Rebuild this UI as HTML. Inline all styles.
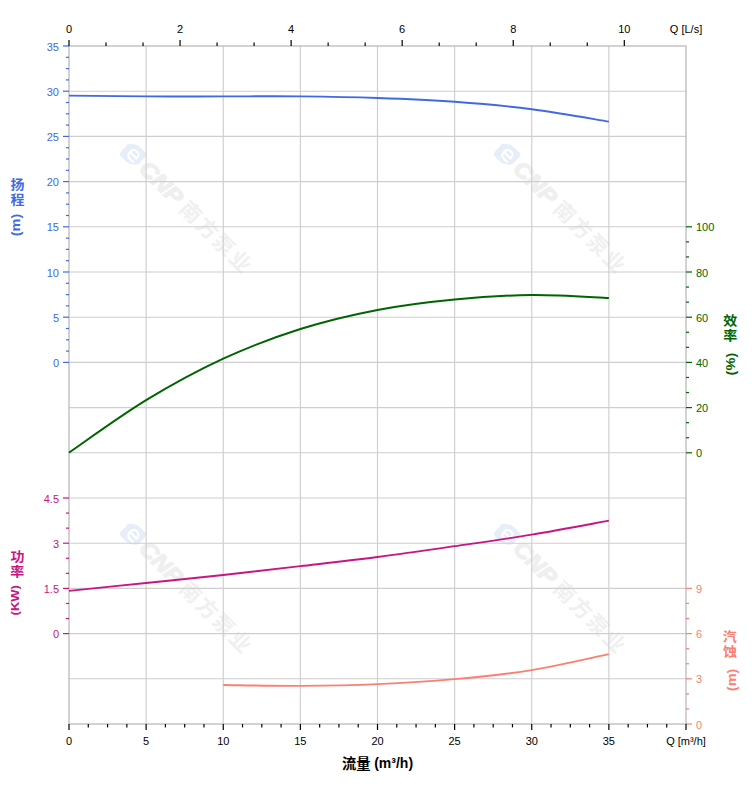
<!DOCTYPE html>
<html><head><meta charset="utf-8"><title>Pump curve</title>
<style>html,body{margin:0;padding:0;background:#fff;}body{width:752px;height:797px;overflow:hidden;font-family:"Liberation Sans",sans-serif;}svg{display:block}</style>
</head><body>
<svg width="752" height="797" viewBox="0 0 752 797">
<rect width="752" height="797" fill="#fff"/>
<g transform="translate(127 147) rotate(45)"><g transform="translate(9.5 1) scale(0.88) translate(-9 -1)"><path d="M-3 0 Q-4.5 -2.5 -2 -5 L3 -9 Q5 -10.5 8 -10.5 L17 -10.5 Q21 -10.5 21 -6.5 L21 3 Q21 6 18.5 8 L14 11 Q12 12.3 9 12.3 L1 12.3 Q-3 12.3 -3 8 Z" fill="#e6eef8"/><path d="M5.5 1.5 L15 1.5 Q15.5 -4.5 10 -4.5 Q4.5 -4.5 4.5 1.5 Q4.5 7 10 7 L16 7" fill="none" stroke="#fff" stroke-width="2.4"/></g><text x="24" y="8.5" font-family="Liberation Sans, sans-serif" font-weight="bold" font-style="italic" font-size="22" fill="#efefef" stroke="#efefef" stroke-width="1.3" stroke-linejoin="round" textLength="51" lengthAdjust="spacingAndGlyphs">CNP</text><text x="80.5 103.9 127.3 150.7" y="8.5" font-family="Liberation Sans, Noto Sans CJK SC, sans-serif" font-weight="bold" font-size="21" fill="#f0f0f0">南方泵业</text></g>
<g transform="translate(501 147) rotate(45)"><g transform="translate(9.5 1) scale(0.88) translate(-9 -1)"><path d="M-3 0 Q-4.5 -2.5 -2 -5 L3 -9 Q5 -10.5 8 -10.5 L17 -10.5 Q21 -10.5 21 -6.5 L21 3 Q21 6 18.5 8 L14 11 Q12 12.3 9 12.3 L1 12.3 Q-3 12.3 -3 8 Z" fill="#e6eef8"/><path d="M5.5 1.5 L15 1.5 Q15.5 -4.5 10 -4.5 Q4.5 -4.5 4.5 1.5 Q4.5 7 10 7 L16 7" fill="none" stroke="#fff" stroke-width="2.4"/></g><text x="24" y="8.5" font-family="Liberation Sans, sans-serif" font-weight="bold" font-style="italic" font-size="22" fill="#efefef" stroke="#efefef" stroke-width="1.3" stroke-linejoin="round" textLength="51" lengthAdjust="spacingAndGlyphs">CNP</text><text x="80.5 103.9 127.3 150.7" y="8.5" font-family="Liberation Sans, Noto Sans CJK SC, sans-serif" font-weight="bold" font-size="21" fill="#f0f0f0">南方泵业</text></g>
<g transform="translate(127 527) rotate(45)"><g transform="translate(9.5 1) scale(0.88) translate(-9 -1)"><path d="M-3 0 Q-4.5 -2.5 -2 -5 L3 -9 Q5 -10.5 8 -10.5 L17 -10.5 Q21 -10.5 21 -6.5 L21 3 Q21 6 18.5 8 L14 11 Q12 12.3 9 12.3 L1 12.3 Q-3 12.3 -3 8 Z" fill="#e6eef8"/><path d="M5.5 1.5 L15 1.5 Q15.5 -4.5 10 -4.5 Q4.5 -4.5 4.5 1.5 Q4.5 7 10 7 L16 7" fill="none" stroke="#fff" stroke-width="2.4"/></g><text x="24" y="8.5" font-family="Liberation Sans, sans-serif" font-weight="bold" font-style="italic" font-size="22" fill="#efefef" stroke="#efefef" stroke-width="1.3" stroke-linejoin="round" textLength="51" lengthAdjust="spacingAndGlyphs">CNP</text><text x="80.5 103.9 127.3 150.7" y="8.5" font-family="Liberation Sans, Noto Sans CJK SC, sans-serif" font-weight="bold" font-size="21" fill="#f0f0f0">南方泵业</text></g>
<g transform="translate(501 527) rotate(45)"><g transform="translate(9.5 1) scale(0.88) translate(-9 -1)"><path d="M-3 0 Q-4.5 -2.5 -2 -5 L3 -9 Q5 -10.5 8 -10.5 L17 -10.5 Q21 -10.5 21 -6.5 L21 3 Q21 6 18.5 8 L14 11 Q12 12.3 9 12.3 L1 12.3 Q-3 12.3 -3 8 Z" fill="#e6eef8"/><path d="M5.5 1.5 L15 1.5 Q15.5 -4.5 10 -4.5 Q4.5 -4.5 4.5 1.5 Q4.5 7 10 7 L16 7" fill="none" stroke="#fff" stroke-width="2.4"/></g><text x="24" y="8.5" font-family="Liberation Sans, sans-serif" font-weight="bold" font-style="italic" font-size="22" fill="#efefef" stroke="#efefef" stroke-width="1.3" stroke-linejoin="round" textLength="51" lengthAdjust="spacingAndGlyphs">CNP</text><text x="80.5 103.9 127.3 150.7" y="8.5" font-family="Liberation Sans, Noto Sans CJK SC, sans-serif" font-weight="bold" font-size="21" fill="#f0f0f0">南方泵业</text></g>
<line x1="69.0" x2="686.0" y1="91.20" y2="91.20" stroke="#cecece" stroke-width="1.1"/>
<line x1="69.0" x2="686.0" y1="136.40" y2="136.40" stroke="#cecece" stroke-width="1.1"/>
<line x1="69.0" x2="686.0" y1="181.60" y2="181.60" stroke="#cecece" stroke-width="1.1"/>
<line x1="69.0" x2="686.0" y1="226.80" y2="226.80" stroke="#cecece" stroke-width="1.1"/>
<line x1="69.0" x2="686.0" y1="272.00" y2="272.00" stroke="#cecece" stroke-width="1.1"/>
<line x1="69.0" x2="686.0" y1="317.20" y2="317.20" stroke="#cecece" stroke-width="1.1"/>
<line x1="69.0" x2="686.0" y1="362.40" y2="362.40" stroke="#cecece" stroke-width="1.1"/>
<line x1="69.0" x2="686.0" y1="407.60" y2="407.60" stroke="#cecece" stroke-width="1.1"/>
<line x1="69.0" x2="686.0" y1="452.80" y2="452.80" stroke="#cecece" stroke-width="1.1"/>
<line x1="69.0" x2="686.0" y1="498.00" y2="498.00" stroke="#cecece" stroke-width="1.1"/>
<line x1="69.0" x2="686.0" y1="543.20" y2="543.20" stroke="#cecece" stroke-width="1.1"/>
<line x1="69.0" x2="686.0" y1="588.40" y2="588.40" stroke="#cecece" stroke-width="1.1"/>
<line x1="69.0" x2="686.0" y1="633.60" y2="633.60" stroke="#cecece" stroke-width="1.1"/>
<line x1="69.0" x2="686.0" y1="678.80" y2="678.80" stroke="#cecece" stroke-width="1.1"/>
<line x1="146.12" x2="146.12" y1="46.0" y2="724.0" stroke="#cecece" stroke-width="1.15"/>
<line x1="223.25" x2="223.25" y1="46.0" y2="724.0" stroke="#cecece" stroke-width="1.15"/>
<line x1="300.38" x2="300.38" y1="46.0" y2="724.0" stroke="#cecece" stroke-width="1.15"/>
<line x1="377.50" x2="377.50" y1="46.0" y2="724.0" stroke="#cecece" stroke-width="1.15"/>
<line x1="454.62" x2="454.62" y1="46.0" y2="724.0" stroke="#cecece" stroke-width="1.15"/>
<line x1="531.75" x2="531.75" y1="46.0" y2="724.0" stroke="#cecece" stroke-width="1.15"/>
<line x1="608.88" x2="608.88" y1="46.0" y2="724.0" stroke="#cecece" stroke-width="1.15"/>
<rect x="69.0" y="46.0" width="617.0" height="678.0" fill="none" stroke="#bbbbbb" stroke-width="1.3"/>
<line x1="63.00" x2="69.00" y1="46.00" y2="46.00" stroke="#4169E1" stroke-width="1.2"/>
<text x="59.00" y="50.60" font-family="Liberation Sans, sans-serif" font-size="11" font-weight="normal" fill="#4169E1" text-anchor="end">35</text>
<line x1="66.00" x2="69.00" y1="57.30" y2="57.30" stroke="#4169E1" stroke-width="1.2"/>
<line x1="66.00" x2="69.00" y1="68.60" y2="68.60" stroke="#4169E1" stroke-width="1.2"/>
<line x1="66.00" x2="69.00" y1="79.90" y2="79.90" stroke="#4169E1" stroke-width="1.2"/>
<line x1="63.00" x2="69.00" y1="91.20" y2="91.20" stroke="#4169E1" stroke-width="1.2"/>
<text x="59.00" y="95.80" font-family="Liberation Sans, sans-serif" font-size="11" font-weight="normal" fill="#4169E1" text-anchor="end">30</text>
<line x1="66.00" x2="69.00" y1="102.50" y2="102.50" stroke="#4169E1" stroke-width="1.2"/>
<line x1="66.00" x2="69.00" y1="113.80" y2="113.80" stroke="#4169E1" stroke-width="1.2"/>
<line x1="66.00" x2="69.00" y1="125.10" y2="125.10" stroke="#4169E1" stroke-width="1.2"/>
<line x1="63.00" x2="69.00" y1="136.40" y2="136.40" stroke="#4169E1" stroke-width="1.2"/>
<text x="59.00" y="141.00" font-family="Liberation Sans, sans-serif" font-size="11" font-weight="normal" fill="#4169E1" text-anchor="end">25</text>
<line x1="66.00" x2="69.00" y1="147.70" y2="147.70" stroke="#4169E1" stroke-width="1.2"/>
<line x1="66.00" x2="69.00" y1="159.00" y2="159.00" stroke="#4169E1" stroke-width="1.2"/>
<line x1="66.00" x2="69.00" y1="170.30" y2="170.30" stroke="#4169E1" stroke-width="1.2"/>
<line x1="63.00" x2="69.00" y1="181.60" y2="181.60" stroke="#4169E1" stroke-width="1.2"/>
<text x="59.00" y="186.20" font-family="Liberation Sans, sans-serif" font-size="11" font-weight="normal" fill="#4169E1" text-anchor="end">20</text>
<line x1="66.00" x2="69.00" y1="192.90" y2="192.90" stroke="#4169E1" stroke-width="1.2"/>
<line x1="66.00" x2="69.00" y1="204.20" y2="204.20" stroke="#4169E1" stroke-width="1.2"/>
<line x1="66.00" x2="69.00" y1="215.50" y2="215.50" stroke="#4169E1" stroke-width="1.2"/>
<line x1="63.00" x2="69.00" y1="226.80" y2="226.80" stroke="#4169E1" stroke-width="1.2"/>
<text x="59.00" y="231.40" font-family="Liberation Sans, sans-serif" font-size="11" font-weight="normal" fill="#4169E1" text-anchor="end">15</text>
<line x1="66.00" x2="69.00" y1="238.10" y2="238.10" stroke="#4169E1" stroke-width="1.2"/>
<line x1="66.00" x2="69.00" y1="249.40" y2="249.40" stroke="#4169E1" stroke-width="1.2"/>
<line x1="66.00" x2="69.00" y1="260.70" y2="260.70" stroke="#4169E1" stroke-width="1.2"/>
<line x1="63.00" x2="69.00" y1="272.00" y2="272.00" stroke="#4169E1" stroke-width="1.2"/>
<text x="59.00" y="276.60" font-family="Liberation Sans, sans-serif" font-size="11" font-weight="normal" fill="#4169E1" text-anchor="end">10</text>
<line x1="66.00" x2="69.00" y1="283.30" y2="283.30" stroke="#4169E1" stroke-width="1.2"/>
<line x1="66.00" x2="69.00" y1="294.60" y2="294.60" stroke="#4169E1" stroke-width="1.2"/>
<line x1="66.00" x2="69.00" y1="305.90" y2="305.90" stroke="#4169E1" stroke-width="1.2"/>
<line x1="63.00" x2="69.00" y1="317.20" y2="317.20" stroke="#4169E1" stroke-width="1.2"/>
<text x="59.00" y="321.80" font-family="Liberation Sans, sans-serif" font-size="11" font-weight="normal" fill="#4169E1" text-anchor="end">5</text>
<line x1="66.00" x2="69.00" y1="328.50" y2="328.50" stroke="#4169E1" stroke-width="1.2"/>
<line x1="66.00" x2="69.00" y1="339.80" y2="339.80" stroke="#4169E1" stroke-width="1.2"/>
<line x1="66.00" x2="69.00" y1="351.10" y2="351.10" stroke="#4169E1" stroke-width="1.2"/>
<line x1="63.00" x2="69.00" y1="362.40" y2="362.40" stroke="#4169E1" stroke-width="1.2"/>
<text x="59.00" y="367.00" font-family="Liberation Sans, sans-serif" font-size="11" font-weight="normal" fill="#4169E1" text-anchor="end">0</text>
<line x1="686.00" x2="692.00" y1="226.80" y2="226.80" stroke="#006400" stroke-width="1.2"/>
<text x="696.00" y="231.40" font-family="Liberation Sans, sans-serif" font-size="11" font-weight="normal" fill="#006400" text-anchor="start">100</text>
<line x1="686.00" x2="689.00" y1="241.87" y2="241.87" stroke="#006400" stroke-width="1.2"/>
<line x1="686.00" x2="689.00" y1="256.93" y2="256.93" stroke="#006400" stroke-width="1.2"/>
<line x1="686.00" x2="692.00" y1="272.00" y2="272.00" stroke="#006400" stroke-width="1.2"/>
<text x="696.00" y="276.60" font-family="Liberation Sans, sans-serif" font-size="11" font-weight="normal" fill="#006400" text-anchor="start">80</text>
<line x1="686.00" x2="689.00" y1="287.07" y2="287.07" stroke="#006400" stroke-width="1.2"/>
<line x1="686.00" x2="689.00" y1="302.13" y2="302.13" stroke="#006400" stroke-width="1.2"/>
<line x1="686.00" x2="692.00" y1="317.20" y2="317.20" stroke="#006400" stroke-width="1.2"/>
<text x="696.00" y="321.80" font-family="Liberation Sans, sans-serif" font-size="11" font-weight="normal" fill="#006400" text-anchor="start">60</text>
<line x1="686.00" x2="689.00" y1="332.27" y2="332.27" stroke="#006400" stroke-width="1.2"/>
<line x1="686.00" x2="689.00" y1="347.33" y2="347.33" stroke="#006400" stroke-width="1.2"/>
<line x1="686.00" x2="692.00" y1="362.40" y2="362.40" stroke="#006400" stroke-width="1.2"/>
<text x="696.00" y="367.00" font-family="Liberation Sans, sans-serif" font-size="11" font-weight="normal" fill="#006400" text-anchor="start">40</text>
<line x1="686.00" x2="689.00" y1="377.47" y2="377.47" stroke="#006400" stroke-width="1.2"/>
<line x1="686.00" x2="689.00" y1="392.53" y2="392.53" stroke="#006400" stroke-width="1.2"/>
<line x1="686.00" x2="692.00" y1="407.60" y2="407.60" stroke="#006400" stroke-width="1.2"/>
<text x="696.00" y="412.20" font-family="Liberation Sans, sans-serif" font-size="11" font-weight="normal" fill="#006400" text-anchor="start">20</text>
<line x1="686.00" x2="689.00" y1="422.67" y2="422.67" stroke="#006400" stroke-width="1.2"/>
<line x1="686.00" x2="689.00" y1="437.73" y2="437.73" stroke="#006400" stroke-width="1.2"/>
<line x1="686.00" x2="692.00" y1="452.80" y2="452.80" stroke="#006400" stroke-width="1.2"/>
<text x="696.00" y="457.40" font-family="Liberation Sans, sans-serif" font-size="11" font-weight="normal" fill="#006400" text-anchor="start">0</text>
<line x1="63.00" x2="69.00" y1="498.00" y2="498.00" stroke="#C71585" stroke-width="1.2"/>
<text x="59.00" y="502.60" font-family="Liberation Sans, sans-serif" font-size="11" font-weight="normal" fill="#C71585" text-anchor="end">4.5</text>
<line x1="66.00" x2="69.00" y1="513.07" y2="513.07" stroke="#C71585" stroke-width="1.2"/>
<line x1="66.00" x2="69.00" y1="528.13" y2="528.13" stroke="#C71585" stroke-width="1.2"/>
<line x1="63.00" x2="69.00" y1="543.20" y2="543.20" stroke="#C71585" stroke-width="1.2"/>
<text x="59.00" y="547.80" font-family="Liberation Sans, sans-serif" font-size="11" font-weight="normal" fill="#C71585" text-anchor="end">3</text>
<line x1="66.00" x2="69.00" y1="558.27" y2="558.27" stroke="#C71585" stroke-width="1.2"/>
<line x1="66.00" x2="69.00" y1="573.33" y2="573.33" stroke="#C71585" stroke-width="1.2"/>
<line x1="63.00" x2="69.00" y1="588.40" y2="588.40" stroke="#C71585" stroke-width="1.2"/>
<text x="59.00" y="593.00" font-family="Liberation Sans, sans-serif" font-size="11" font-weight="normal" fill="#C71585" text-anchor="end">1.5</text>
<line x1="66.00" x2="69.00" y1="603.47" y2="603.47" stroke="#C71585" stroke-width="1.2"/>
<line x1="66.00" x2="69.00" y1="618.53" y2="618.53" stroke="#C71585" stroke-width="1.2"/>
<line x1="63.00" x2="69.00" y1="633.60" y2="633.60" stroke="#C71585" stroke-width="1.2"/>
<text x="59.00" y="638.20" font-family="Liberation Sans, sans-serif" font-size="11" font-weight="normal" fill="#C71585" text-anchor="end">0</text>
<line x1="686.00" x2="692.00" y1="588.40" y2="588.40" stroke="#FA8072" stroke-width="1.2"/>
<text x="696.00" y="593.00" font-family="Liberation Sans, sans-serif" font-size="11" font-weight="normal" fill="#FA8072" text-anchor="start">9</text>
<line x1="686.00" x2="689.00" y1="603.47" y2="603.47" stroke="#FA8072" stroke-width="1.2"/>
<line x1="686.00" x2="689.00" y1="618.53" y2="618.53" stroke="#FA8072" stroke-width="1.2"/>
<line x1="686.00" x2="692.00" y1="633.60" y2="633.60" stroke="#FA8072" stroke-width="1.2"/>
<text x="696.00" y="638.20" font-family="Liberation Sans, sans-serif" font-size="11" font-weight="normal" fill="#FA8072" text-anchor="start">6</text>
<line x1="686.00" x2="689.00" y1="648.67" y2="648.67" stroke="#FA8072" stroke-width="1.2"/>
<line x1="686.00" x2="689.00" y1="663.73" y2="663.73" stroke="#FA8072" stroke-width="1.2"/>
<line x1="686.00" x2="692.00" y1="678.80" y2="678.80" stroke="#FA8072" stroke-width="1.2"/>
<text x="696.00" y="683.40" font-family="Liberation Sans, sans-serif" font-size="11" font-weight="normal" fill="#FA8072" text-anchor="start">3</text>
<line x1="686.00" x2="689.00" y1="693.87" y2="693.87" stroke="#FA8072" stroke-width="1.2"/>
<line x1="686.00" x2="689.00" y1="708.93" y2="708.93" stroke="#FA8072" stroke-width="1.2"/>
<line x1="686.00" x2="692.00" y1="724.00" y2="724.00" stroke="#FA8072" stroke-width="1.2"/>
<text x="696.00" y="728.60" font-family="Liberation Sans, sans-serif" font-size="11" font-weight="normal" fill="#FA8072" text-anchor="start">0</text>
<line x1="69.00" x2="69.00" y1="724.00" y2="730.00" stroke="#000" stroke-width="1.2"/>
<text x="69.00" y="745.00" font-family="Liberation Sans, sans-serif" font-size="11" font-weight="normal" fill="#000" text-anchor="middle">0</text>
<line x1="88.28" x2="88.28" y1="724.00" y2="727.40" stroke="#000" stroke-width="1.2"/>
<line x1="107.56" x2="107.56" y1="724.00" y2="727.40" stroke="#000" stroke-width="1.2"/>
<line x1="126.84" x2="126.84" y1="724.00" y2="727.40" stroke="#000" stroke-width="1.2"/>
<line x1="146.12" x2="146.12" y1="724.00" y2="730.00" stroke="#000" stroke-width="1.2"/>
<text x="146.12" y="745.00" font-family="Liberation Sans, sans-serif" font-size="11" font-weight="normal" fill="#000" text-anchor="middle">5</text>
<line x1="165.41" x2="165.41" y1="724.00" y2="727.40" stroke="#000" stroke-width="1.2"/>
<line x1="184.69" x2="184.69" y1="724.00" y2="727.40" stroke="#000" stroke-width="1.2"/>
<line x1="203.97" x2="203.97" y1="724.00" y2="727.40" stroke="#000" stroke-width="1.2"/>
<line x1="223.25" x2="223.25" y1="724.00" y2="730.00" stroke="#000" stroke-width="1.2"/>
<text x="223.25" y="745.00" font-family="Liberation Sans, sans-serif" font-size="11" font-weight="normal" fill="#000" text-anchor="middle">10</text>
<line x1="242.53" x2="242.53" y1="724.00" y2="727.40" stroke="#000" stroke-width="1.2"/>
<line x1="261.81" x2="261.81" y1="724.00" y2="727.40" stroke="#000" stroke-width="1.2"/>
<line x1="281.09" x2="281.09" y1="724.00" y2="727.40" stroke="#000" stroke-width="1.2"/>
<line x1="300.38" x2="300.38" y1="724.00" y2="730.00" stroke="#000" stroke-width="1.2"/>
<text x="300.38" y="745.00" font-family="Liberation Sans, sans-serif" font-size="11" font-weight="normal" fill="#000" text-anchor="middle">15</text>
<line x1="319.66" x2="319.66" y1="724.00" y2="727.40" stroke="#000" stroke-width="1.2"/>
<line x1="338.94" x2="338.94" y1="724.00" y2="727.40" stroke="#000" stroke-width="1.2"/>
<line x1="358.22" x2="358.22" y1="724.00" y2="727.40" stroke="#000" stroke-width="1.2"/>
<line x1="377.50" x2="377.50" y1="724.00" y2="730.00" stroke="#000" stroke-width="1.2"/>
<text x="377.50" y="745.00" font-family="Liberation Sans, sans-serif" font-size="11" font-weight="normal" fill="#000" text-anchor="middle">20</text>
<line x1="396.78" x2="396.78" y1="724.00" y2="727.40" stroke="#000" stroke-width="1.2"/>
<line x1="416.06" x2="416.06" y1="724.00" y2="727.40" stroke="#000" stroke-width="1.2"/>
<line x1="435.34" x2="435.34" y1="724.00" y2="727.40" stroke="#000" stroke-width="1.2"/>
<line x1="454.62" x2="454.62" y1="724.00" y2="730.00" stroke="#000" stroke-width="1.2"/>
<text x="454.62" y="745.00" font-family="Liberation Sans, sans-serif" font-size="11" font-weight="normal" fill="#000" text-anchor="middle">25</text>
<line x1="473.91" x2="473.91" y1="724.00" y2="727.40" stroke="#000" stroke-width="1.2"/>
<line x1="493.19" x2="493.19" y1="724.00" y2="727.40" stroke="#000" stroke-width="1.2"/>
<line x1="512.47" x2="512.47" y1="724.00" y2="727.40" stroke="#000" stroke-width="1.2"/>
<line x1="531.75" x2="531.75" y1="724.00" y2="730.00" stroke="#000" stroke-width="1.2"/>
<text x="531.75" y="745.00" font-family="Liberation Sans, sans-serif" font-size="11" font-weight="normal" fill="#000" text-anchor="middle">30</text>
<line x1="551.03" x2="551.03" y1="724.00" y2="727.40" stroke="#000" stroke-width="1.2"/>
<line x1="570.31" x2="570.31" y1="724.00" y2="727.40" stroke="#000" stroke-width="1.2"/>
<line x1="589.59" x2="589.59" y1="724.00" y2="727.40" stroke="#000" stroke-width="1.2"/>
<line x1="608.88" x2="608.88" y1="724.00" y2="730.00" stroke="#000" stroke-width="1.2"/>
<text x="608.88" y="745.00" font-family="Liberation Sans, sans-serif" font-size="11" font-weight="normal" fill="#000" text-anchor="middle">35</text>
<line x1="628.16" x2="628.16" y1="724.00" y2="727.40" stroke="#000" stroke-width="1.2"/>
<line x1="647.44" x2="647.44" y1="724.00" y2="727.40" stroke="#000" stroke-width="1.2"/>
<line x1="666.72" x2="666.72" y1="724.00" y2="727.40" stroke="#000" stroke-width="1.2"/>
<line x1="686.00" x2="686.00" y1="724.00" y2="730.00" stroke="#000" stroke-width="1.2"/>
<text x="686.00" y="745.00" font-family="Liberation Sans, sans-serif" font-size="11" font-weight="normal" fill="#000" text-anchor="middle">Q [m³/h]</text>
<line x1="69.00" x2="69.00" y1="40.00" y2="46.00" stroke="#000" stroke-width="1.2"/>
<text x="69.00" y="33.00" font-family="Liberation Sans, sans-serif" font-size="11" font-weight="normal" fill="#000" text-anchor="middle">0</text>
<line x1="106.02" x2="106.02" y1="42.60" y2="46.00" stroke="#000" stroke-width="1.2"/>
<line x1="143.04" x2="143.04" y1="42.60" y2="46.00" stroke="#000" stroke-width="1.2"/>
<line x1="180.06" x2="180.06" y1="40.00" y2="46.00" stroke="#000" stroke-width="1.2"/>
<text x="180.06" y="33.00" font-family="Liberation Sans, sans-serif" font-size="11" font-weight="normal" fill="#000" text-anchor="middle">2</text>
<line x1="217.08" x2="217.08" y1="42.60" y2="46.00" stroke="#000" stroke-width="1.2"/>
<line x1="254.10" x2="254.10" y1="42.60" y2="46.00" stroke="#000" stroke-width="1.2"/>
<line x1="291.12" x2="291.12" y1="40.00" y2="46.00" stroke="#000" stroke-width="1.2"/>
<text x="291.12" y="33.00" font-family="Liberation Sans, sans-serif" font-size="11" font-weight="normal" fill="#000" text-anchor="middle">4</text>
<line x1="328.14" x2="328.14" y1="42.60" y2="46.00" stroke="#000" stroke-width="1.2"/>
<line x1="365.16" x2="365.16" y1="42.60" y2="46.00" stroke="#000" stroke-width="1.2"/>
<line x1="402.18" x2="402.18" y1="40.00" y2="46.00" stroke="#000" stroke-width="1.2"/>
<text x="402.18" y="33.00" font-family="Liberation Sans, sans-serif" font-size="11" font-weight="normal" fill="#000" text-anchor="middle">6</text>
<line x1="439.20" x2="439.20" y1="42.60" y2="46.00" stroke="#000" stroke-width="1.2"/>
<line x1="476.22" x2="476.22" y1="42.60" y2="46.00" stroke="#000" stroke-width="1.2"/>
<line x1="513.24" x2="513.24" y1="40.00" y2="46.00" stroke="#000" stroke-width="1.2"/>
<text x="513.24" y="33.00" font-family="Liberation Sans, sans-serif" font-size="11" font-weight="normal" fill="#000" text-anchor="middle">8</text>
<line x1="550.26" x2="550.26" y1="42.60" y2="46.00" stroke="#000" stroke-width="1.2"/>
<line x1="587.28" x2="587.28" y1="42.60" y2="46.00" stroke="#000" stroke-width="1.2"/>
<line x1="624.30" x2="624.30" y1="40.00" y2="46.00" stroke="#000" stroke-width="1.2"/>
<text x="624.30" y="33.00" font-family="Liberation Sans, sans-serif" font-size="11" font-weight="normal" fill="#000" text-anchor="middle">10</text>
<text x="686.00" y="33.00" font-family="Liberation Sans, sans-serif" font-size="11" font-weight="normal" fill="#000" text-anchor="middle">Q [L/s]</text>
<path d="M69.00 95.60 C81.85 95.73 120.42 96.27 146.12 96.40 C171.83 96.53 197.54 96.40 223.25 96.40 C248.96 96.40 274.67 96.13 300.38 96.40 C326.08 96.67 351.79 97.10 377.50 98.00 C403.21 98.90 428.92 99.93 454.62 101.80 C480.33 103.67 506.04 105.90 531.75 109.20 C557.46 112.50 596.02 119.53 608.88 121.60" fill="none" stroke="#4169E1" stroke-width="1.9" stroke-linecap="butt"/>
<path d="M69.00 452.60 C81.85 443.87 120.42 415.85 146.12 400.20 C171.83 384.55 197.54 370.57 223.25 358.70 C248.96 346.83 274.67 337.13 300.38 329.00 C326.08 320.87 351.79 314.83 377.50 309.90 C403.21 304.97 428.92 301.87 454.62 299.40 C480.33 296.93 506.04 295.33 531.75 295.10 C557.46 294.87 596.02 297.52 608.88 298.00" fill="none" stroke="#006400" stroke-width="2.0" stroke-linecap="butt"/>
<path d="M69.00 590.90 C81.85 589.58 120.42 585.65 146.12 583.00 C171.83 580.35 197.54 577.80 223.25 575.00 C248.96 572.20 274.67 569.20 300.38 566.20 C326.08 563.20 351.79 560.33 377.50 557.00 C403.21 553.67 428.92 549.92 454.62 546.20 C480.33 542.48 506.04 538.95 531.75 534.70 C557.46 530.45 596.02 523.03 608.88 520.70" fill="none" stroke="#C71585" stroke-width="1.85" stroke-linecap="butt"/>
<path d="M223.25 685.00 C236.10 685.13 274.67 685.95 300.38 685.80 C326.08 685.65 351.79 685.22 377.50 684.10 C403.21 682.98 428.92 681.43 454.62 679.10 C480.33 676.77 506.04 674.25 531.75 670.10 C557.46 665.95 596.02 656.85 608.88 654.20" fill="none" stroke="#FA8072" stroke-width="1.85" stroke-linecap="butt"/>
<text transform="translate(10.55 188.84) scale(1 0.93)" font-family="Liberation Sans, Noto Sans CJK SC, sans-serif" font-size="14" font-weight="bold" fill="#4169E1">扬</text><text transform="translate(10.53 203.78) scale(1 0.93)" font-family="Liberation Sans, Noto Sans CJK SC, sans-serif" font-size="14" font-weight="bold" fill="#4169E1">程</text><text transform="translate(20.20 224.95) rotate(-90) scale(1.04 0.92)" font-family="Liberation Sans, sans-serif" font-size="14" font-weight="bold" fill="#4169E1" text-anchor="middle">(m)</text>
<text transform="translate(723.23 324.98) scale(1 0.93)" font-family="Liberation Sans, Noto Sans CJK SC, sans-serif" font-size="14" font-weight="bold" fill="#006400">效</text><text transform="translate(723.21 339.99) scale(1 0.93)" font-family="Liberation Sans, Noto Sans CJK SC, sans-serif" font-size="14" font-weight="bold" fill="#006400">率</text><text transform="translate(735.40 364.10) rotate(-90) scale(1.04 0.92)" font-family="Liberation Sans, sans-serif" font-size="14" font-weight="bold" fill="#006400" text-anchor="middle">(%)</text>
<text transform="translate(10.52 561.29) scale(1 0.93)" font-family="Liberation Sans, Noto Sans CJK SC, sans-serif" font-size="14" font-weight="bold" fill="#C71585">功</text><text transform="translate(10.31 575.84) scale(1 0.93)" font-family="Liberation Sans, Noto Sans CJK SC, sans-serif" font-size="14" font-weight="bold" fill="#C71585">率</text><text transform="translate(19.00 600.30) rotate(-90) scale(1.04 0.92)" font-family="Liberation Sans, sans-serif" font-size="12.5" font-weight="bold" fill="#C71585" text-anchor="middle">(KW)</text>
<text transform="translate(722.79 640.84) scale(1 0.93)" font-family="Liberation Sans, Noto Sans CJK SC, sans-serif" font-size="14" font-weight="bold" fill="#FA8072">汽</text><text transform="translate(722.93 655.92) scale(1 0.93)" font-family="Liberation Sans, Noto Sans CJK SC, sans-serif" font-size="14" font-weight="bold" fill="#FA8072">蚀</text><text transform="translate(736.10 679.90) rotate(-90) scale(1.04 0.92)" font-family="Liberation Sans, sans-serif" font-size="14" font-weight="bold" fill="#FA8072" text-anchor="middle">(m)</text>
<text x="342.00 356.30" y="768.60" font-family="Liberation Sans, Noto Sans CJK SC, sans-serif" font-size="14.3" font-weight="bold" fill="#000">流量</text>
<text x="374.20" y="768.20" font-family="Liberation Sans, sans-serif" font-size="14" font-weight="bold" fill="#000" text-anchor="start">(m³/h)</text>
</svg>
</body></html>
